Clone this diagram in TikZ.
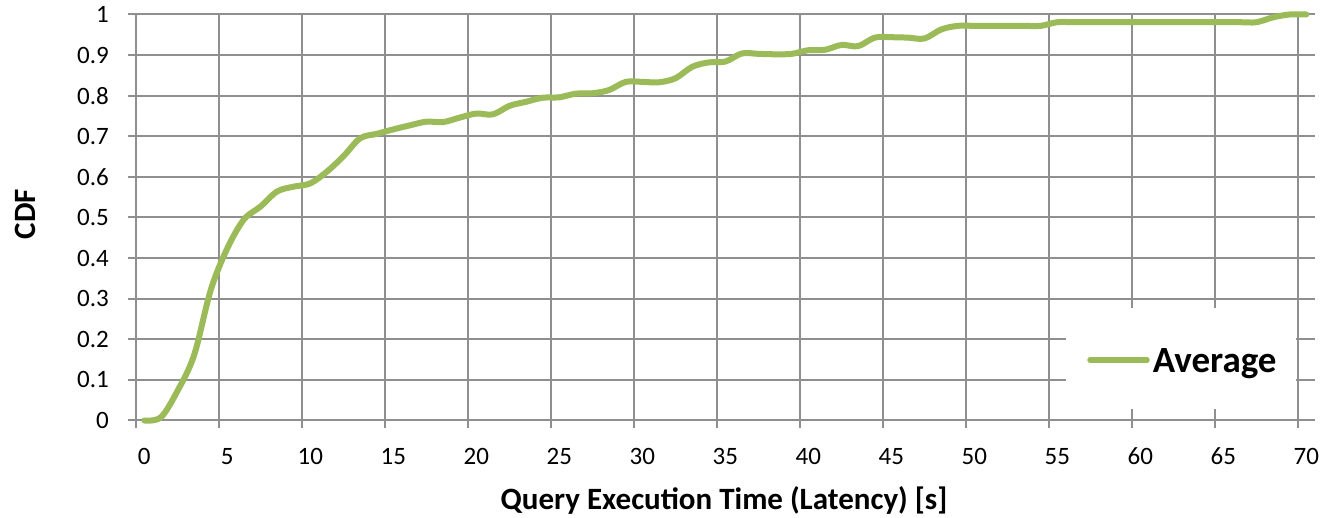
\documentclass[tikz,border=0pt]{standalone}
\usepackage{fontspec}
\setmainfont{Carlito}
\definecolor{gridgray}{HTML}{8F8F8F}
\definecolor{seriesgreen}{HTML}{9BBB59}
\begin{document}
\begin{tikzpicture}[x=1pt,y=1pt,
  gridline/.style={draw=gridgray, line width=2pt},
  ticklabel/.style={font=\fontsize{25}{28}\selectfont, inner sep=0pt},
  axistitle/.style={font=\fontsize{31}{34}\selectfont\bfseries, inner sep=0pt},
  series/.style={draw=seriesgreen, line width=6pt, line cap=round, line join=round}]
\useasboundingbox (0,0) rectangle (1321,518);
\fill[white] (0,0) rectangle (1321,518);
\begin{scope}[shift={(144.3,97.5)}, x=16.6pt, y=406pt]
  \foreach \k in {0,...,10} \draw[gridline] (-0.98,\k/10) -- (70.5,\k/10);
  \foreach \k in {0,...,14} \draw[gridline] (5*\k-0.5,-0.0185) -- (5*\k-0.5,1);
  \draw[series] plot[smooth, tension=0.55] coordinates {
    (0,0) (1,0.008) (2,0.073) (3,0.161) (4,0.321) (5,0.424) (6,0.495)
    (7,0.527) (8,0.564) (9,0.576) (10,0.584) (11,0.613) (12,0.651)
    (13,0.695) (14,0.706) (15,0.717) (16,0.727) (17,0.736) (18,0.735)
    (19,0.746) (20,0.756) (21,0.754) (22,0.775) (23,0.785) (24,0.795)
    (25,0.796) (26,0.805) (27,0.806) (28,0.814) (29,0.834) (30,0.834)
    (31,0.833) (32,0.843) (33,0.871) (34,0.882) (35,0.884) (36,0.904)
    (37,0.903) (38,0.902) (39,0.903) (40,0.912) (41,0.913) (42,0.925)
    (43,0.922) (44,0.943) (45,0.944) (46,0.943) (47,0.941) (48,0.963)
    (49,0.972) (50,0.972) (51,0.972) (52,0.972) (53,0.972) (54,0.972)
    (55,0.981) (56,0.981) (57,0.981) (58,0.981) (59,0.981) (60,0.981)
    (61,0.981) (62,0.981) (63,0.981) (64,0.981) (65,0.981) (66,0.981)
    (67,0.981) (68,0.993) (69,1.0) (70,1.0)};
  \foreach \k in {0,...,14} {
    \pgfmathtruncatemacro\lab{5*\k}
    \node[ticklabel, anchor=base] (xl\k) at (5*\k,-0.1079) {\lab};
  }
  \node[ticklabel, anchor=east] (yl0) at (-2.127,0) {0};
  \foreach \k in {1,...,9}
    \node[ticklabel, anchor=east] (yl\k) at (-2.127,\k/10) {0.\k};
  \node[ticklabel, anchor=east] (yl10) at (-2.127,1) {1};
\end{scope}
% legend
\node[fill=white, minimum width=230pt, minimum height=101pt, inner sep=0pt] (legend) at (1181,159.5) {};
\coordinate (lgA) at (1090,158);
\coordinate (lgB) at (1147,158);
\draw[series, line width=5.5pt] (lgA) -- (lgB);
\node[font=\fontsize{37}{42}\selectfont\bfseries, anchor=base west, inner sep=0pt] (legendtext) at (1152.7,145.3) {Average};
% axis titles
\node[axistitle, anchor=base] (xtitle) at (724,8) {Query Execution Time (Latency) [s]};
\node[axistitle, rotate=90, anchor=base] (ytitle) at (35,304) {CDF};
\end{tikzpicture}
\end{document}
